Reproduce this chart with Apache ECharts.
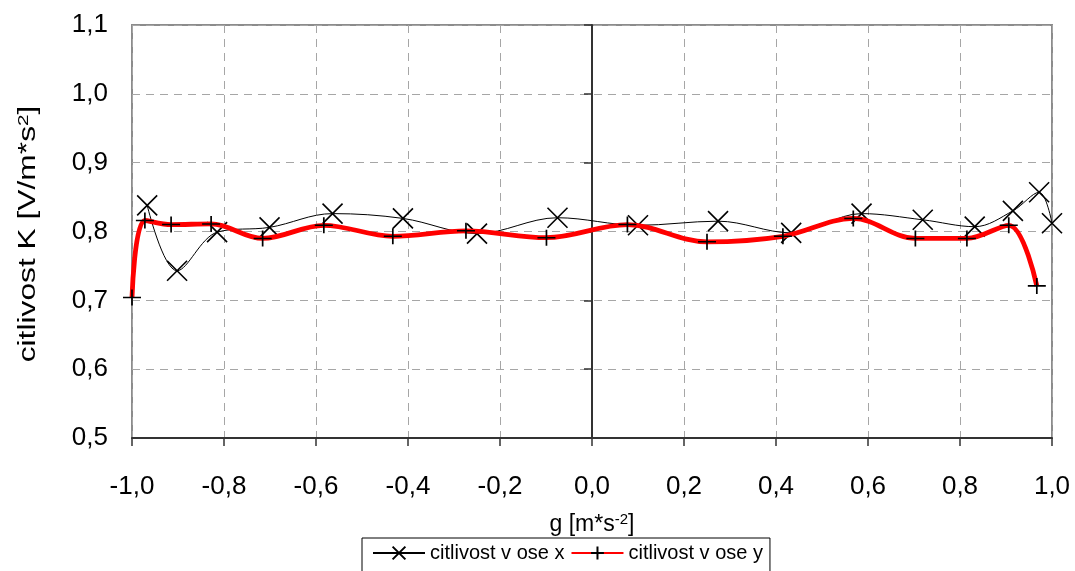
<!DOCTYPE html>
<html>
<head>
<meta charset="utf-8">
<script src="https://cdn.jsdelivr.net/npm/echarts@6/dist/echarts.min.js"></script>
<style>
html,body{margin:0;padding:0;background:#fff;}
#c{width:1075px;height:571px;}
</style>
</head>
<body>
<div id="c"></div>
<script>
// citlivost v ose x
const gX = [-0.967,-0.902,-0.815,-0.701,-0.564,-0.411,-0.250,-0.075,0.100,0.274,0.433,0.586,0.719,0.832,0.915,0.972,1.000];
const kX = [0.838,0.743,0.799,0.806,0.826,0.819,0.797,0.820,0.809,0.815,0.798,0.826,0.817,0.807,0.830,0.857,0.812];
// citlivost v ose y
const gY = [-1.000,-0.972,-0.915,-0.828,-0.716,-0.583,-0.433,-0.274,-0.099,0.077,0.250,0.415,0.568,0.703,0.815,0.906,0.967];
const kY = [0.704,0.816,0.810,0.811,0.790,0.809,0.793,0.801,0.791,0.810,0.785,0.793,0.819,0.790,0.790,0.809,0.721];
const seriesNames = ['citlivost v ose x','citlivost v ose y'];
const xAxisTitle = 'g [m*s{sup|-2}]';
const yAxisTitle = 'citlivost K [V/m*s{sup|2}]';

const FONT = '"Liberation Sans", Arial, sans-serif';
const fmt = v => (Math.abs(v) < 1e-9 ? 0 : v).toFixed(1).replace('.', ',');
const pairs = (a, b) => a.map((v, i) => [v, b[i]]);
const supStyle = {fontSize: 15, verticalAlign: 'top', padding: [0,0,10,0], fontFamily: FONT, color:'#000'};

const chart = echarts.init(document.getElementById('c'), null, {renderer: 'canvas'});
chart.setOption({
  backgroundColor: '#fff',
  animation: false,
  textStyle: {fontFamily: FONT},
  grid: {left: 132, right: 23, top: 25, bottom: 133, show: true, borderColor: '#8c8c8c', borderWidth: 2, backgroundColor: 'transparent'},
  graphic: [{
    type: 'text', x: 29, y: 234, rotation: Math.PI / 2, scaleX: 1.38, scaleY: 1,
    style: {
      text: yAxisTitle, fontFamily: FONT, fontSize: 23, fill: '#000',
      align: 'center', verticalAlign: 'middle',
      rich: {sup: {fontSize: 15, verticalAlign: 'top', padding: [0,0,10,0], fontFamily: FONT, fill: '#000'}}
    }
  }],
  legend: {
    data: seriesNames,
    left: 362, top: 538,
    padding: [5, 7, 14, 10],
    borderColor: '#000', borderWidth: 1,
    itemWidth: 52, itemHeight: 16, itemGap: 6,
    textStyle: {fontFamily: FONT, fontSize: 20, color: '#000'}
  },
  xAxis: {
    type: 'value', min: -1, max: 1, interval: 0.2,
    name: xAxisTitle, nameLocation: 'middle', nameGap: 74,
    nameTextStyle: {fontFamily: FONT, fontSize: 23, color: '#000', rich: {sup: supStyle}},
    axisLine: {onZero: false, lineStyle: {color: '#333', width: 2}},
    axisTick: {length: 8, lineStyle: {color: '#333', width: 1.5}},
    axisLabel: {formatter: fmt, fontSize: 26, color: '#000', margin: 36, fontFamily: FONT},
    splitLine: {show: true, lineStyle: {type: [8, 6], color: '#a6a6a6', width: 1}}
  },
  yAxis: [{
    type: 'value', min: 0.5, max: 1.1, interval: 0.1, position: 'left',
    axisLine: {show: false, onZero: false},
    axisTick: {show: false},
    axisLabel: {formatter: fmt, fontSize: 26, color: '#000', margin: 24, fontFamily: FONT},
    splitLine: {show: true, lineStyle: {type: [8, 6], color: '#a6a6a6', width: 1}}
  }, {
    type: 'value', min: 0.5, max: 1.1, interval: 0.1, position: 'left',
    axisLine: {show: true, onZero: true, lineStyle: {color: '#333', width: 2}},
    axisTick: {show: true, length: 8, lineStyle: {color: '#333', width: 1.5}},
    axisLabel: {show: false},
    splitLine: {show: false}
  }],
  series: [{
    name: seriesNames[0], type: 'line', smooth: 0.35,
    data: pairs(gX, kX),
    symbol: 'path://M0,0L10,10M10,0L0,10', symbolSize: 20,
    itemStyle: {color: '#000', borderColor: '#000', borderWidth: 1.6},
    lineStyle: {color: '#000', width: 1},
    clip: false, z: 2
  }, {
    name: seriesNames[1], type: 'line', smooth: 0.35,
    data: pairs(gY, kY),
    symbol: 'path://M0,5L10,5M5,0L5,10', symbolSize: [18, 16],
    itemStyle: {color: '#000', borderColor: '#000', borderWidth: 1.6},
    lineStyle: {color: '#ff0000', width: 4.8},
    clip: false, z: 3
  }]
});
</script>
</body>
</html>
